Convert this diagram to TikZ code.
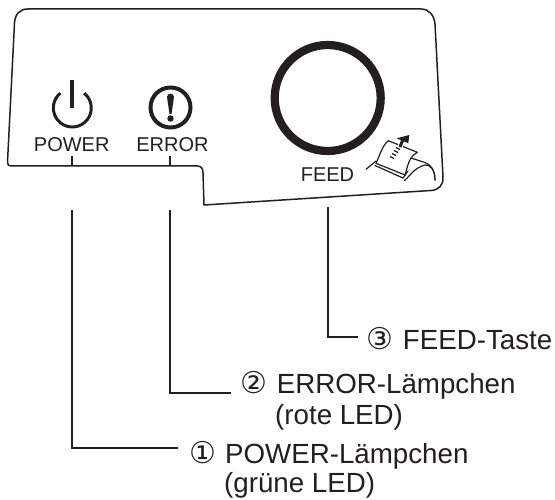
\documentclass[tikz,border=0pt]{standalone}
\usepackage{fontspec}
\setmainfont{Liberation Sans}
\newfontfamily\circfont{DejaVu Sans}
\definecolor{ink}{HTML}{231F20}
\tikzset{
  panelline/.style={line width=1.5pt,draw=ink,line join=round},
  leader/.style={line width=1.7pt,draw=ink},
  ticka/.style={line width=2.2pt,draw=ink},
  iconline/.style={line width=1.2pt,draw=ink,line join=round,line cap=round},
  panellabel/.style={inner sep=0pt,anchor=base,font=\fontsize{20}{22}\selectfont,text=ink},
  calllabel/.style={inner sep=0pt,anchor=base west,font=\fontsize{27.7}{30}\selectfont,text=ink},
}
\newcommand{\callnum}[1]{\makebox[36pt][l]{\circfont\fontsize{30}{30}\selectfont #1}}
\begin{document}
\begin{tikzpicture}[x=1pt,y=-1pt]
\useasboundingbox (0,0) rectangle (555,500);
% panel outline
\draw[panelline] (28,9) -- (421,9) .. controls (429,9) and (434,15) .. (435,24)
  -- (443,177) .. controls (443.5,185) and (439,190) .. (431,190.5)
  -- (204,205) -- (203,173) .. controls (203,168) and (201,166) .. (197,166)
  -- (11,166) .. controls (8.5,166) and (7.5,165) .. (7.5,162)
  -- (14.5,23) .. controls (15,14) and (20,9) .. (28,9) -- cycle;
% feed button
\node[circle,draw=ink,line width=8.2pt,minimum size=106pt,inner sep=0pt] (button) at (327.7,98) {};
% power icon
\draw[draw=ink,line width=3pt] (72.3,108) ++(-51:19) arc[start angle=-51,end angle=231,radius=19];
\draw[draw=ink,line width=3.4pt] (72,80) -- (72,108);
% error icon
\node[circle,draw=ink,line width=4pt,minimum size=40pt,inner sep=0pt] (erroricon) at (170.5,107.5) {};
\fill[ink] (167,97) .. controls (167,92.5) and (174,92.5) .. (174,97) -- (171.5,114) -- (169.5,114) -- cycle;
\fill[ink] (170.5,118.5) circle[radius=3.2];
% panel labels
\node[panellabel] (powertxt) at (71.7,151.7) {POWER};
\node[panellabel] (errortxt) at (172.5,151.7) {ERROR};
\node[panellabel] (feedtxt) at (327.5,181.7) {FEED};
% ticks
\coordinate (ptop) at (72,156);
\coordinate (pbot) at (72,166);
\coordinate (etop) at (170.3,156);
\coordinate (ebot) at (170.3,166);
\draw[ticka] (ptop) -- (pbot);
\draw[ticka] (etop) -- (ebot);
% printer icon
\draw[iconline] (366,169.3) -- (376,161);
\draw[iconline,fill=white] (376,163.3) .. controls (380,155) and (382,146) .. (388.3,140.7)
  -- (417.3,152.3) .. controls (408,158) and (408,166) .. (405,175) -- cycle;
\draw[iconline] (375,165.5) -- (403,178) -- (408,171);
\draw[iconline] (404.3,180.7) .. controls (411,175) and (414,168) .. (425,165) .. controls (430,164) and (435,170) .. (435,180);
\draw[iconline] (411,158) -- (425,162.5) .. controls (431,165) and (435,170) .. (435,180);
\draw[ink,line width=1.3pt] (390,156.5) -- (394,158.5) (392,153.5) -- (396,155.5) (394,150.5) -- (398,152.5) (396,147.5) -- (400,149.5);
\draw[white,line width=5pt] (400,147) -- (403.5,138);
\draw[white,line width=2pt] (396.7,138.3) -- (409.3,135) -- (408.3,143.3) -- cycle;
\draw[ink,line width=3pt] (400,147) -- (403.5,138);
\fill[ink] (396.7,138.3) -- (409.3,135) -- (408.3,143.3) -- cycle;
% callouts
\node[calllabel] (l3) at (366.7,349.3) {\callnum{③}FEED-Taste};
\node[calllabel] (l2) at (240.7,393.3) {\callnum{②}ERROR-Lämpchen};
\node[calllabel] (l2b) at (275,424) {(rote LED)};
\node[calllabel] (l1) at (189,463) {\callnum{①}POWER-Lämpchen};
\node[calllabel] (l1b) at (224,492.7) {(grüne LED)};
% leaders
\coordinate (s1) at (72,210);
\coordinate (s2) at (170.3,210);
\coordinate (s3) at (327.7,207);
\draw[leader] (s1) |- ([xshift=-11pt,yshift=15pt]l1.base west);
\draw[leader] (s2) |- ([xshift=-10pt]l2.base west);
\draw[leader] (s3) |- ([xshift=-9pt,yshift=12pt]l3.base west);
\end{tikzpicture}
\end{document}
